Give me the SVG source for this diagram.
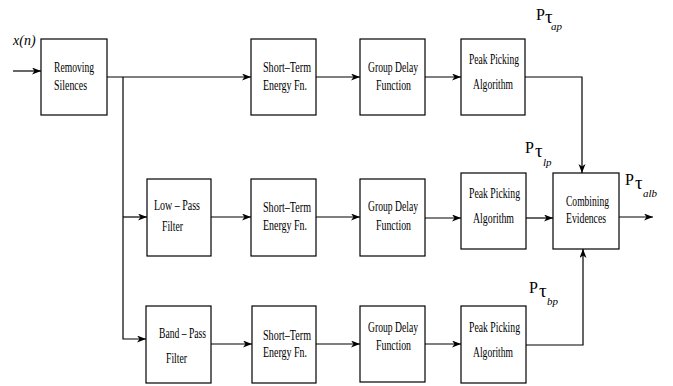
<svg xmlns="http://www.w3.org/2000/svg" width="673" height="386" viewBox="0 0 673 386">
<style>
.box{fill:#fff;stroke:#000;stroke-width:1.2}
.t{font-family:"Liberation Serif",serif;font-size:14px;fill:#000}
.c{fill:none;stroke:#000;stroke-width:1.2}
.P{font-family:"Liberation Serif",serif;font-size:16px;fill:#000}
.tau{font-family:"Liberation Serif",serif;font-size:19px;fill:#000}
.sub{font-family:"Liberation Serif",serif;font-size:11px;font-style:italic;fill:#000}
</style>
<defs>
<marker id="ah" markerUnits="userSpaceOnUse" markerWidth="10" markerHeight="8" refX="9" refY="3.5" orient="auto">
<path d="M0,0 L9,3.5 L0,7 L2.5,3.5 z" fill="#000"/>
</marker>
</defs>
<rect width="673" height="386" fill="#fff"/>
<g id="connectors">
<line class="c" x1="13" y1="71" x2="41" y2="71" marker-end="url(#ah)"/>
<line class="c" x1="107" y1="77" x2="251" y2="77" marker-end="url(#ah)"/>
<polyline class="c" points="123,77 123,339 146,339" marker-end="url(#ah)"/>
<line class="c" x1="123" y1="217" x2="147" y2="217" marker-end="url(#ah)"/>
<line class="c" x1="316" y1="77" x2="360" y2="77" marker-end="url(#ah)"/>
<line class="c" x1="425" y1="77" x2="461" y2="77" marker-end="url(#ah)"/>
<polyline class="c" points="525,77 582,77 582,173" marker-end="url(#ah)"/>
<line class="c" x1="211" y1="217" x2="251" y2="217" marker-end="url(#ah)"/>
<line class="c" x1="316" y1="217" x2="360" y2="217" marker-end="url(#ah)"/>
<line class="c" x1="425" y1="218" x2="461" y2="218" marker-end="url(#ah)"/>
<line class="c" x1="526" y1="218" x2="553" y2="218" marker-end="url(#ah)"/>
<line class="c" x1="619" y1="217" x2="653" y2="217" marker-end="url(#ah)"/>
<line class="c" x1="211" y1="344" x2="252" y2="344" marker-end="url(#ah)"/>
<line class="c" x1="316" y1="344" x2="360" y2="344" marker-end="url(#ah)"/>
<line class="c" x1="425" y1="344" x2="461" y2="344" marker-end="url(#ah)"/>
<polyline class="c" points="526,345 583,345 583,249" marker-end="url(#ah)"/>
</g>
<g id="input-label"><text class="t" x="13" y="45" font-style="italic" font-size="12">x(n)</text></g>
<g id="removing-silences">
<rect class="box" x="41" y="39" width="66" height="76"/>
<text class="t" x="54" y="72" textLength="40" lengthAdjust="spacingAndGlyphs">Removing</text>
<text class="t" x="54" y="90" textLength="33" lengthAdjust="spacingAndGlyphs">Silences</text>
</g>
<g id="ste1">
<rect class="box" x="251" y="39" width="65" height="76"/>
<text class="t" x="263" y="72" textLength="48" lengthAdjust="spacingAndGlyphs">Short–Term</text>
<text class="t" x="263" y="90" textLength="44" lengthAdjust="spacingAndGlyphs">Energy Fn.</text>
</g>
<g id="gd1">
<rect class="box" x="360" y="39" width="65" height="76"/>
<text class="t" x="368" y="72" textLength="50" lengthAdjust="spacingAndGlyphs">Group Delay</text>
<text class="t" x="376" y="90" textLength="35" lengthAdjust="spacingAndGlyphs">Function</text>
</g>
<g id="pp1">
<rect class="box" x="461" y="39" width="64" height="76"/>
<text class="t" x="469" y="64" textLength="50" lengthAdjust="spacingAndGlyphs">Peak Picking</text>
<text class="t" x="473" y="89" textLength="40" lengthAdjust="spacingAndGlyphs">Algorithm</text>
</g>
<g id="lowpass">
<rect class="box" x="147" y="179" width="64" height="77"/>
<text class="t" x="154" y="210" textLength="46" lengthAdjust="spacingAndGlyphs">Low – Pass</text>
<text class="t" x="162" y="231" textLength="21" lengthAdjust="spacingAndGlyphs">Filter</text>
</g>
<g id="ste2">
<rect class="box" x="251" y="179" width="65" height="77"/>
<text class="t" x="263" y="212" textLength="48" lengthAdjust="spacingAndGlyphs">Short–Term</text>
<text class="t" x="263" y="230" textLength="44" lengthAdjust="spacingAndGlyphs">Energy Fn.</text>
</g>
<g id="gd2">
<rect class="box" x="360" y="179" width="65" height="77"/>
<text class="t" x="368" y="211" textLength="50" lengthAdjust="spacingAndGlyphs">Group Delay</text>
<text class="t" x="376" y="230" textLength="35" lengthAdjust="spacingAndGlyphs">Function</text>
</g>
<g id="pp2">
<rect class="box" x="461" y="173" width="65" height="76"/>
<text class="t" x="469" y="198" textLength="51" lengthAdjust="spacingAndGlyphs">Peak Picking</text>
<text class="t" x="473" y="223" textLength="41" lengthAdjust="spacingAndGlyphs">Algorithm</text>
</g>
<g id="combining">
<rect class="box" x="553" y="173" width="66" height="76"/>
<text class="t" x="566" y="206" textLength="43" lengthAdjust="spacingAndGlyphs">Combining</text>
<text class="t" x="566" y="223" textLength="40" lengthAdjust="spacingAndGlyphs">Evidences</text>
</g>
<g id="bandpass">
<rect class="box" x="146" y="306" width="65" height="77"/>
<text class="t" x="159" y="338" textLength="47" lengthAdjust="spacingAndGlyphs">Band – Pass</text>
<text class="t" x="166" y="363" textLength="21" lengthAdjust="spacingAndGlyphs">Filter</text>
</g>
<g id="ste3">
<rect class="box" x="252" y="306" width="64" height="77"/>
<text class="t" x="263" y="340" textLength="48" lengthAdjust="spacingAndGlyphs">Short–Term</text>
<text class="t" x="263" y="357" textLength="44" lengthAdjust="spacingAndGlyphs">Energy Fn.</text>
</g>
<g id="gd3">
<rect class="box" x="360" y="306" width="65" height="76"/>
<text class="t" x="368" y="332" textLength="50" lengthAdjust="spacingAndGlyphs">Group Delay</text>
<text class="t" x="376" y="350" textLength="35" lengthAdjust="spacingAndGlyphs">Function</text>
</g>
<g id="pp3">
<rect class="box" x="461" y="306" width="65" height="77"/>
<text class="t" x="469" y="332" textLength="51" lengthAdjust="spacingAndGlyphs">Peak Picking</text>
<text class="t" x="473" y="357" textLength="40" lengthAdjust="spacingAndGlyphs">Algorithm</text>
</g>
<g id="labels">
<text class="P" x="536" y="20">P</text><text class="tau" x="545" y="23">τ</text><text class="sub" x="551" y="30">ap</text>
<text class="P" x="525" y="153">P</text><text class="tau" x="535" y="157">τ</text><text class="sub" x="543" y="166">lp</text>
<text class="P" x="625" y="185">P</text><text class="tau" x="635" y="189">τ</text><text class="sub" x="643" y="197">alb</text>
<text class="P" x="529" y="293">P</text><text class="tau" x="539" y="297">τ</text><text class="sub" x="547" y="305">bp</text>
</g>
</svg>
